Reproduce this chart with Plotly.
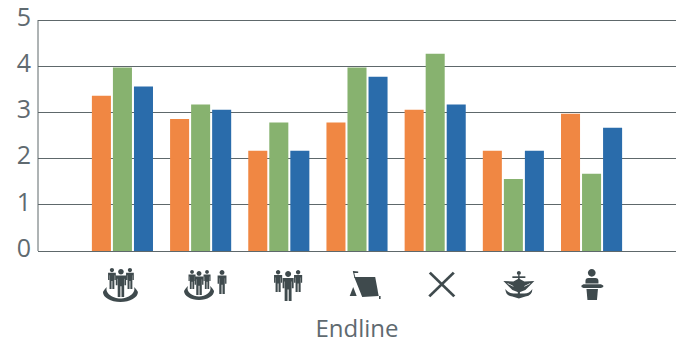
import re
import plotly.graph_objects as go

categories = ["community", "community plus", "group", "camp", "rifles", "navy", "speaker"]
orange_values = [3.36, 2.86, 2.17, 2.78, 3.06, 2.17, 2.97]
green_values = [3.97, 3.17, 2.78, 3.97, 4.27, 1.56, 1.67]
blue_values = [3.56, 3.06, 2.17, 3.77, 3.17, 2.17, 2.67]
orange_base = [-0.03, -0.03, -0.02, -0.02, -0.06, -0.02, -0.02]
green_base = [-0.03, -0.03, -0.02, -0.02, -0.02, -0.02, -0.02]
blue_base = [-0.06, -0.06, -0.03, -0.03, -0.03, -0.03, -0.03]
y_ticks = [0, 1, 2, 3, 4, 5]
axis_title = "Endline"

INK = "#5E686B"
TEXT = "#5F6A70"
ICON = "#3F4A4D"


def circle(cx, cy, r, ry=None):
    ry = r if ry is None else ry
    k = 0.5523
    return (f"M{cx-r},{cy} C{cx-r},{cy-k*ry} {cx-k*r},{cy-ry} {cx},{cy-ry} "
            f"C{cx+k*r},{cy-ry} {cx+r},{cy-k*ry} {cx+r},{cy} "
            f"C{cx+r},{cy+k*ry} {cx+k*r},{cy+ry} {cx},{cy+ry} "
            f"C{cx-k*r},{cy+ry} {cx-r},{cy+k*ry} {cx-r},{cy} Z")


def poly(pts):
    return "M" + " L".join(f"{x},{y}" for x, y in pts) + " Z"


def person(cx, top, bottom):
    h = bottom - top
    s = h / 26.0
    r = 2.6 * s
    w = 4.8 * s
    st, hip, arm = top + 6 * s, top + 16 * s, top + 15 * s
    body = [(cx - w, st), (cx + w, st), (cx + w, arm), (cx + w - 1.5 * s, arm),
            (cx + w - 1.5 * s, st + 3 * s), (cx + 3 * s, st + 3 * s), (cx + 3 * s, bottom),
            (cx + 0.5 * s, bottom), (cx + 0.5 * s, hip), (cx - 0.5 * s, hip), (cx - 0.5 * s, bottom),
            (cx - 3 * s, bottom), (cx - 3 * s, st + 3 * s), (cx - w + 1.5 * s, st + 3 * s),
            (cx - w + 1.5 * s, arm), (cx - w, arm)]
    return [circle(cx, top + r, r), poly(body)]


def ring(cx, cy, rx, ry):
    k = 0.5523
    return (f"M{cx-rx},{cy} C{cx-rx},{cy+k*ry} {cx-k*rx},{cy+ry} {cx},{cy+ry} "
            f"C{cx+k*rx},{cy+ry} {cx+rx},{cy+k*ry} {cx+rx},{cy} "
            f"C{cx+rx-1},{cy-2} {cx+rx-2},{cy-3} {cx+rx-4},{cy-5} "
            f"C{cx+rx-1.5},{cy+1} {cx+k*rx-2},{cy+ry-3.5} {cx},{cy+ry-3.5} "
            f"C{cx-k*rx+2},{cy+ry-3.5} {cx-rx+1.5},{cy+1} {cx-rx+4},{cy-5} "
            f"C{cx-rx+2},{cy-3} {cx-rx+1},{cy-2} {cx-rx},{cy} Z")


wings = (poly([(503, 281), (513, 281.5), (518.5, 278.5), (524, 281.5), (534, 281), (529, 286),
               (525, 290), (518.5, 292.5), (512, 290), (508, 286)])
         + " " + poly([(507, 283), (513, 286), (513, 286.8), (507.5, 284)])
         + " " + poly([(530, 283), (524, 286), (524, 286.8), (529.5, 284)]))

# icon outlines, in pixels, on the picture's own grid
icon_paths = {
    0: person(112, 268, 289) + person(130, 268, 289) + person(121, 269, 297) + [ring(120.5, 292, 17.5, 10)],
    1: person(192, 270, 289) + person(207, 270, 289) + person(199, 271, 295) + person(222, 270, 294)
       + [ring(199, 291, 15, 9)],
    2: person(278, 270, 292) + person(298, 270, 292) + person(288, 271, 301),
    3: [poly([(354, 277), (375, 277), (378.5, 296), (362, 297)]),
        poly([(349.5, 296), (353, 287), (356.5, 296)]),
        poly([(352.6, 271), (353.6, 271), (355.3, 278), (354.3, 278)]),
        poly([(353, 271), (358, 271.5), (358, 273), (353.5, 273)]),
        poly([(378.8, 296), (380.4, 296), (380.4, 299), (378.8, 299)])],
    4: [poly([(428.5, 273.5), (430.5, 271.8), (455, 295.5), (453, 297.2)]),
        poly([(454.5, 273.5), (452.5, 271.8), (428, 295.5), (430, 297.2)])],
    5: [circle(518.5, 273, 2), poly([(517.8, 275), (519.2, 275), (519.6, 295), (517.4, 295)]),
        poly([(512, 276.3), (525, 276.3), (525, 278), (512, 278)]),
        wings,
        "M505,289 Q508,293.5 513,293.5 L524,293.5 Q529,293.5 532,289 Q532,295.5 525,296.5 L518.5,298.5 L512,296.5 Q505,295.5 505,289 Z"],
    6: [circle(591.3, 272.8, 3.9),
        "M585,283.6 L585,281 Q585,278 588,278 L595,278 Q598,278 598,281 L598,283.6 Z",
        poly([(581, 285.5), (583, 284.2), (600.5, 284.2), (602.8, 285.5), (602.8, 287), (600.5, 288), (583, 288), (581, 287)]),
        poly([(586, 289), (597.5, 289), (596.5, 300), (587, 300)])],
}
group_centers_px = [122.5, 200.6, 278.7, 356.8, 434.9, 513.0, 591.1]
PLOT_BOTTOM_PX = 251.0


def to_offsets(path, cx):
    tokens = re.findall(r"[MLCQZ]|-?\d+\.?\d*", path)
    s, idx, count = "", 0, 0
    for t in tokens:
        if t in "MLCQZ":
            s += (" " if s else "") + t
            count = 0
            continue
        v = float(t)
        o = round(v - cx, 2) if idx % 2 == 0 else round(PLOT_BOTTOM_PX - v, 2)
        s += ("," if count % 2 else (" " if count else "")) + str(o)
        idx += 1
        count += 1
    return s


fig = go.Figure()
for name, vals, base, color in [
    ("Orange", orange_values, orange_base, "#F08743"),
    ("Green", green_values, green_base, "#87B26F"),
    ("Blue", blue_values, blue_base, "#2A6CAB"),
]:
    fig.add_bar(x=categories, y=[v - b for v, b in zip(vals, base)], base=base, name=name,
                marker=dict(color=color, line_width=0), cliponaxis=False)

shapes = [dict(type="line", xref="paper", yref="y", x0=0, x1=0, y0=0, y1=5,
               line=dict(color=INK, width=1), layer="below")]
for i, paths in icon_paths.items():
    for p in paths:
        shapes.append(dict(type="path", xref="x", yref="paper", xsizemode="pixel", ysizemode="pixel",
                           xanchor=i, yanchor=0, path=to_offsets(p, group_centers_px[i]),
                           fillcolor=ICON, line_width=0, layer="above"))

fig.update_layout(
    width=676, height=344, showlegend=False,
    paper_bgcolor="white", plot_bgcolor="white",
    margin=dict(l=38, r=0, t=10, b=93, autoexpand=False),
    barmode="group", bargap=0.193, bargroupgap=0.095,
    font=dict(family="Open Sans", color=TEXT),
    shapes=shapes,
    xaxis=dict(type="category", categoryorder="array", categoryarray=categories,
               range=[-1.08, 7.08], showticklabels=False, ticks="", showgrid=False, zeroline=False,
               showline=False, automargin=False,
               title=dict(text=axis_title, font=dict(size=24, color=TEXT), standoff=73)),
    yaxis=dict(range=[0, 5.217], tickvals=y_ticks, showgrid=True, gridcolor=INK, gridwidth=1,
               zeroline=True, zerolinecolor=INK, zerolinewidth=1,
               showline=False, ticks="", ticklabeloverflow="allow", automargin=False,
               tickfont=dict(size=25, color=TEXT), ticklabelstandoff=6, ticklabelshift=-3),
)
fig.write_html("out.html", config=dict(displayModeBar=False), post_script="document.body.style.margin='0';")
